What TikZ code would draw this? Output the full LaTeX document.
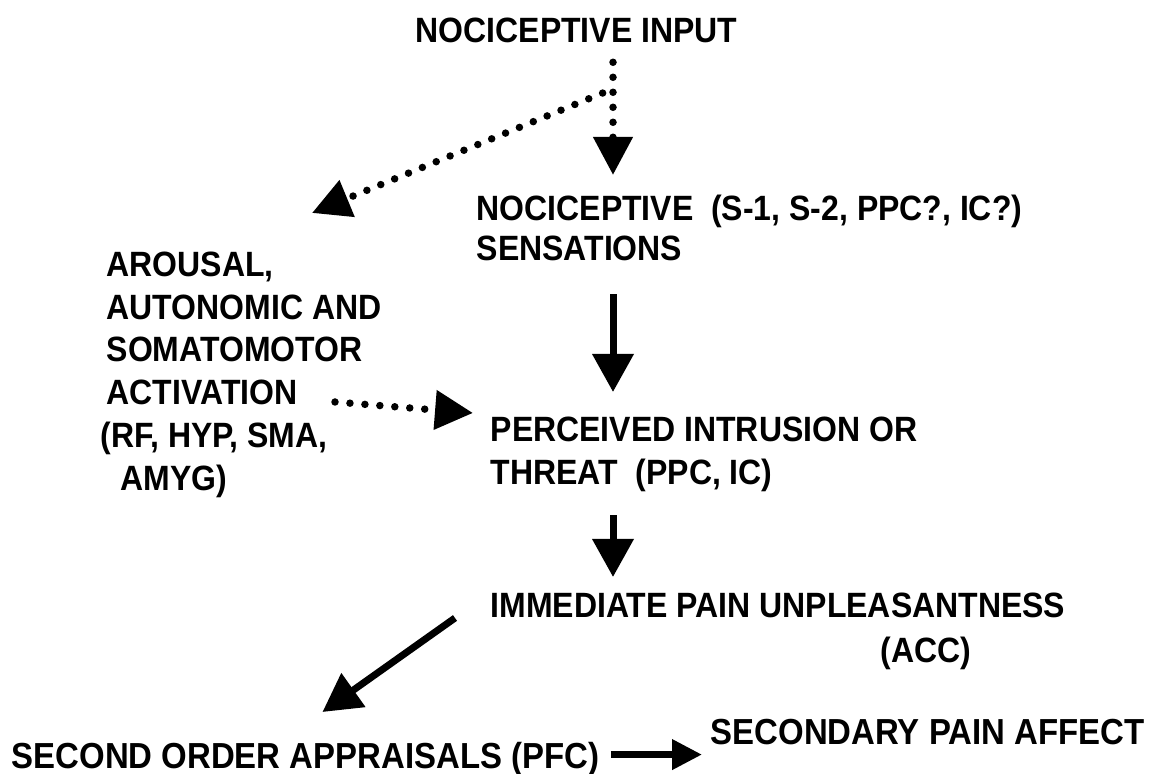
\documentclass[tikz,border=0pt]{standalone}
\usepackage{fontspec}
\setmainfont{Liberation Sans}[FakeStretch=0.91]
\usetikzlibrary{arrows.meta}

\begin{document}
\begin{tikzpicture}[
    x=0.1mm, y=-0.1mm,
    stage/.style={inner sep=0pt, anchor=north west, align=left, font=\bfseries\fontsize{10}{12.2}\selectfont},
    bigstage/.style={stage, font=\bfseries\fontsize{10.3}{12.4}\selectfont},
    arrow/.style={-{Triangle[width=4mm, length=3.8mm]}, line width=0.7mm},
    smallarrow/.style={-{Triangle[width=2.9mm, length=3mm]}, line width=0.7mm},
    dotarrow/.style={-{Triangle[width=3.8mm, length=3.8mm]}, line width=0.75mm, line cap=round, dash pattern=on 0pt off 1.5mm}
]
\useasboundingbox (0,0) rectangle (1154,774);

% Stages
\node[stage] (input) at (415,17) {NOCICEPTIVE INPUT};
\node[stage] (sens) at (476,194) {NOCICEPTIVE\ \ (S-1, S-2, PPC?, IC?)\\[-0.8pt]SENSATIONS};
\node[stage] (arousal) at (106,251) {AROUSAL,\\AUTONOMIC AND\\SOMATOMOTOR\\ACTIVATION\\\hspace*{-0.6mm}(RF, HYP, SMA,\\\hspace*{1.4mm}AMYG)};
\node[stage] (threat) at (490,416) {PERCEIVED INTRUSION OR\\THREAT\ \ (PPC, IC)};
\node[stage, align=right] (unpleas) at (490,592) {IMMEDIATE PAIN UNPLEASANTNESS\\[0.6pt](ACC)\hspace*{9.4mm}};
\node[bigstage] (appraisal) at (11,742) {SECOND ORDER APPRAISALS (PFC)};
\node[bigstage] (secondary) at (710,719) {SECONDARY PAIN AFFECT};

% Connectors
\coordinate (spine) at (613,0);
\coordinate (fork) at (610,90);

\draw[dotarrow, shorten <=1.9mm, shorten >=1.9mm] (input.south -| spine) -- (sens.north -| spine);
\draw[dotarrow, shorten <=0.8mm] (fork) -- ([shift={(20.6mm,3.8mm)}]arousal.north west);
\draw[dotarrow] ([shift={(22.9mm,-15.1mm)}]arousal.north west) -- ([shift={(-1.7mm,0.3mm)}]threat.north west);

\draw[arrow, shorten <=3.3mm, shorten >=2.4mm] (sens.south -| spine) -- (threat.north -| spine);
\draw[arrow, shorten <=2.3mm, shorten >=1.5mm] (threat.south -| spine) -- (unpleas.north -| spine);
\draw[arrow] ([shift={(-3.5mm,-2.6mm)}]unpleas.north west) -- ([shift={(1.7mm,3mm)}]appraisal.north);
\draw[smallarrow, shorten <=1.1mm, shorten >=0.8mm] ([yshift=0.5mm]appraisal.east) -- ([yshift=0.5mm]appraisal.east -| secondary.west);

\end{tikzpicture}
\end{document}
